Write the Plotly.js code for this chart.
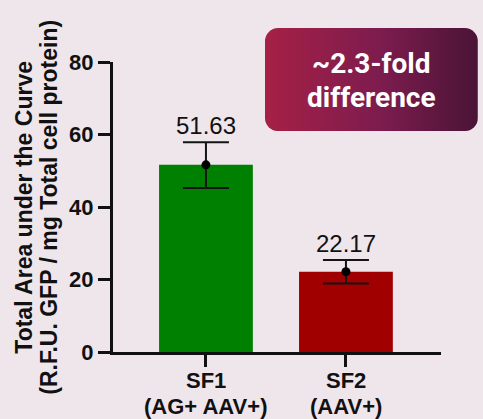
<!DOCTYPE html>
<html>
<head>
<meta charset="utf-8">
<script src="https://cdn.plot.ly/plotly-3.0.1.min.js"></script>
<style>
  html, body { margin: 0; padding: 0; background: #efe6ec; }
  #chart { width: 483px; height: 419px; }
</style>
</head>
<body>
<div id="chart"></div>
<script>
// ---- data ----
const categories = ['SF1', 'SF2'];
const tickLine1 = ['SF1', 'SF2'];
const tickLine2 = ['(AG+ AAV+)', '(AAV+)'];
const means = [51.63, 22.17];
const errUpper = [6.2, 3.2];
const errLower = [6.4, 3.3];
const valueLabels = ['51.63', '22.17'];
const barColors = ['#008000', '#a00000'];
const calloutLines = ['~2.3-fold', 'difference'];
const yTitleLines = ['Total Area under the Curve', '(R.F.U. GFP / mg Total cell protein)'];
const yTicks = [0, 20, 40, 60, 80];

// ---- callout background (decoration) ----
const boxSvg = "<svg xmlns='http://www.w3.org/2000/svg' width='213' height='103' viewBox='0 0 213 103'>" +
  "<defs><linearGradient id='g' x1='0' x2='1' y1='0' y2='0'>" +
  "<stop offset='0' stop-color='#a62046'/><stop offset='0.55' stop-color='#7c1c4e'/><stop offset='1' stop-color='#4a1436'/>" +
  "</linearGradient></defs><rect x='0' y='0' width='213' height='103' rx='13' ry='13' fill='url(#g)'/></svg>";
const boxSrc = 'data:image/svg+xml;charset=utf-8,' + encodeURIComponent(boxSvg);

const SANS = 'Liberation Sans, Arial, sans-serif';
const INK = '#111111';

const traces = [
  {
    type: 'bar',
    x: categories,
    y: means,
    marker: { color: barColors, line: { width: 0 } },
    hoverinfo: 'skip'
  },
  {
    type: 'scatter',
    mode: 'markers',
    x: categories,
    y: means,
    marker: { color: '#000000', size: 9 },
    error_y: {
      type: 'data',
      symmetric: false,
      array: errUpper,
      arrayminus: errLower,
      color: '#141414',
      thickness: 2,
      width: 23
    },
    hoverinfo: 'skip'
  }
];

const annotations = [];
categories.forEach((c, i) => {
  annotations.push({
    x: c, y: means[i] + errUpper[i], xref: 'x', yref: 'y',
    text: valueLabels[i], showarrow: false, yanchor: 'bottom', yshift: 1,
    font: { family: SANS, size: 24, color: INK }
  });
  annotations.push({
    x: c, y: -0.099, xref: 'x', yref: 'paper',
    text: tickLine1[i], showarrow: false, yanchor: 'middle',
    font: { family: SANS, size: 22, color: INK, weight: 'bold' }
  });
  annotations.push({
    x: c, y: -0.1876, xref: 'x', yref: 'paper',
    text: tickLine2[i], showarrow: false, yanchor: 'middle',
    font: { family: SANS, size: 22, color: INK, weight: 'bold' }
  });
});
[0.9945, 0.879].forEach((yy, i) => {
  annotations.push({
    x: 0.7875, y: yy, xref: 'paper', yref: 'paper',
    text: calloutLines[i], showarrow: false, xanchor: 'center', yanchor: 'middle',
    font: { family: 'Roboto, sans-serif', size: 28, color: '#ffffff', weight: 'bold' }
  });
});
[-0.2723, -0.196].forEach((xx, i) => {
  annotations.push({
    x: xx, y: 0.5, xref: 'paper', yref: 'paper', textangle: -90,
    text: yTitleLines[i], showarrow: false, xanchor: 'center', yanchor: 'middle',
    font: { family: SANS, size: 23, color: INK, weight: 'bold' }
  });
});

const layout = {
  width: 483, height: 419,
  margin: { l: 113, r: 42, t: 62, b: 67 },
  paper_bgcolor: '#efe6ec',
  plot_bgcolor: '#efe6ec',
  showlegend: false,
  bargap: 0.33,
  hovermode: false,
  xaxis: {
    type: 'category',
    range: [-0.664, 1.679],
    tickvals: categories,
    showticklabels: false,
    showline: true, linewidth: 3, linecolor: INK,
    ticks: 'outside', ticklen: 12, tickwidth: 3, tickcolor: INK,
    showgrid: false, zeroline: false
  },
  yaxis: {
    range: [0, 80],
    tickvals: yTicks,
    showline: true, linewidth: 3, linecolor: INK,
    ticks: 'outside', ticklen: 12, tickwidth: 3, tickcolor: INK,
    showgrid: false, zeroline: false,
    tickfont: { family: SANS, size: 22, color: INK, weight: 'bold' }
  },
  images: [{
    source: boxSrc, xref: 'paper', yref: 'paper',
    x: 0.4634, y: 1.117, sizex: 0.649, sizey: 0.355,
    xanchor: 'left', yanchor: 'top', sizing: 'stretch', layer: 'above'
  }],
  annotations: annotations
};

Plotly.newPlot('chart', traces, layout, { displayModeBar: false, staticPlot: true });
</script>
</body>
</html>
